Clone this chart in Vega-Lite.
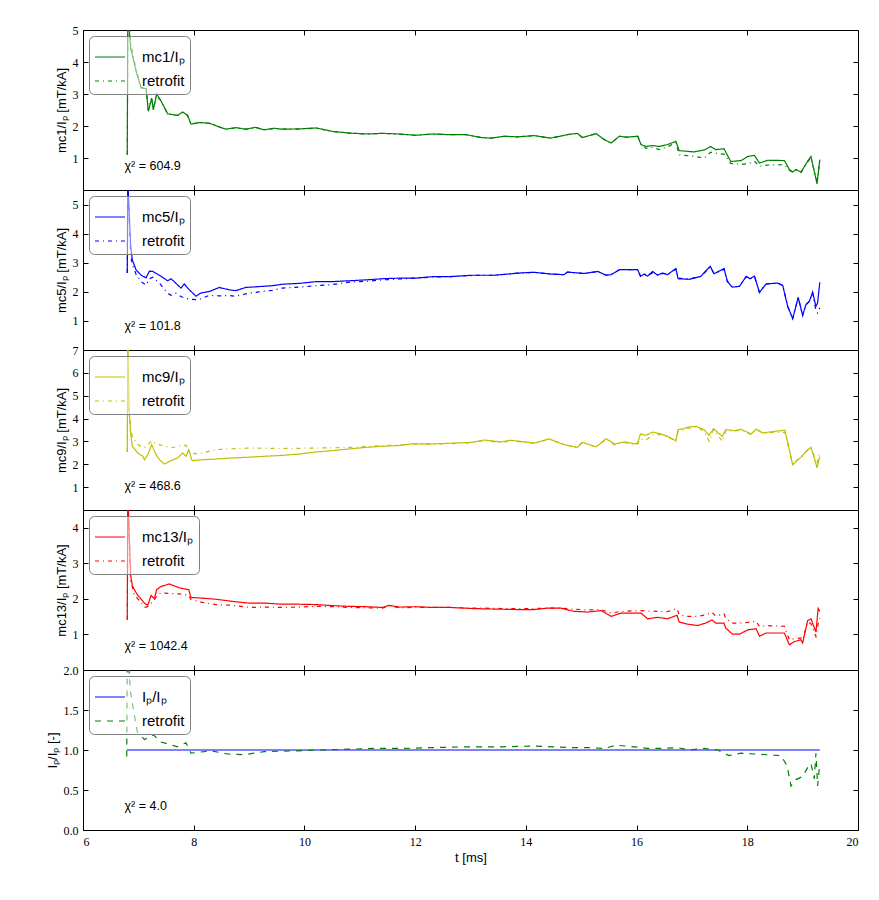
{
"$schema": "https://vega.github.io/schema/vega-lite/v6.json",
"padding": {"left": 45, "top": 23, "right": 10, "bottom": 10},
"background": "white",
"bounds": "flush",
"config": {
  "view": {"stroke": "black", "strokeWidth": 1},
  "axis": {"grid": false, "domain": false, "tickColor": "black", "tickSize": -5, "labelColor": "black", "titleColor": "black", "labelFont": "Liberation Serif", "labelFontSize": 12, "titleFont": "Liberation Sans", "titleFontSize": 13, "titleFontWeight": "normal", "labelPadding": 10},
  "legend": {"orient": "top-left", "offset": 6, "strokeColor": "#808080", "cornerRadius": 5, "fillColor": "rgba(255,255,255,0.5)", "padding": 5, "symbolType": "stroke", "symbolSize": 900, "symbolStrokeWidth": 1.2, "labelFont": "Liberation Sans", "labelFontSize": 15, "labelOffset": 16, "rowPadding": -7, "labelColor": "black"},
  "text": {"font": "Liberation Sans", "fontSize": 12.5, "color": "black"}
},
"datasets": {
  "mc1": [
    {"t":6.80,"mc1/Iₚ":1.10,"retrofit":1.10},{"t":6.81,"mc1/Iₚ":5.6,"retrofit":5.6},{"t":6.86,"mc1/Iₚ":4.44,"retrofit":4.6},{"t":6.96,"mc1/Iₚ":3.71,"retrofit":3.75},{"t":7.05,"mc1/Iₚ":3.19,"retrofit":3.2},{"t":7.14,"mc1/Iₚ":3.17,"retrofit":3.17},{"t":7.18,"mc1/Iₚ":2.46,"retrofit":2.5},{"t":7.24,"mc1/Iₚ":2.87,"retrofit":2.85},{"t":7.27,"mc1/Iₚ":2.50,"retrofit":2.55},{"t":7.33,"mc1/Iₚ":3.00,"retrofit":2.95},{"t":7.41,"mc1/Iₚ":2.78,"retrofit":2.78},{"t":7.53,"mc1/Iₚ":2.38,"retrofit":2.38},{"t":7.71,"mc1/Iₚ":2.33,"retrofit":2.33},{"t":7.80,"mc1/Iₚ":2.44,"retrofit":2.42},{"t":7.89,"mc1/Iₚ":2.33,"retrofit":2.33},{"t":7.95,"mc1/Iₚ":2.06,"retrofit":2.06},{"t":8.10,"mc1/Iₚ":2.11,"retrofit":2.10},{"t":8.28,"mc1/Iₚ":2.09,"retrofit":2.08},{"t":8.43,"mc1/Iₚ":1.99,"retrofit":1.99},{"t":8.58,"mc1/Iₚ":1.90,"retrofit":1.90},{"t":8.76,"mc1/Iₚ":1.95,"retrofit":1.94},{"t":8.94,"mc1/Iₚ":1.90,"retrofit":1.90},{"t":9.12,"mc1/Iₚ":1.96,"retrofit":1.95},{"t":9.27,"mc1/Iₚ":1.88,"retrofit":1.88},{"t":9.45,"mc1/Iₚ":1.93,"retrofit":1.92},{"t":9.60,"mc1/Iₚ":1.90,"retrofit":1.90},{"t":9.91,"mc1/Iₚ":1.91,"retrofit":1.90},{"t":10.21,"mc1/Iₚ":1.94,"retrofit":1.93},{"t":10.51,"mc1/Iₚ":1.83,"retrofit":1.83},{"t":10.81,"mc1/Iₚ":1.78,"retrofit":1.78},{"t":11.11,"mc1/Iₚ":1.75,"retrofit":1.75},{"t":11.41,"mc1/Iₚ":1.77,"retrofit":1.77},{"t":11.71,"mc1/Iₚ":1.75,"retrofit":1.75},{"t":12.01,"mc1/Iₚ":1.71,"retrofit":1.71},{"t":12.31,"mc1/Iₚ":1.75,"retrofit":1.75},{"t":12.62,"mc1/Iₚ":1.73,"retrofit":1.73},{"t":12.92,"mc1/Iₚ":1.73,"retrofit":1.73},{"t":13.19,"mc1/Iₚ":1.64,"retrofit":1.64},{"t":13.37,"mc1/Iₚ":1.62,"retrofit":1.62},{"t":13.61,"mc1/Iₚ":1.68,"retrofit":1.68},{"t":13.85,"mc1/Iₚ":1.66,"retrofit":1.66},{"t":14.15,"mc1/Iₚ":1.70,"retrofit":1.70},{"t":14.45,"mc1/Iₚ":1.62,"retrofit":1.62},{"t":14.75,"mc1/Iₚ":1.73,"retrofit":1.73},{"t":14.93,"mc1/Iₚ":1.77,"retrofit":1.77},{"t":15.02,"mc1/Iₚ":1.64,"retrofit":1.64},{"t":15.27,"mc1/Iₚ":1.76,"retrofit":1.76},{"t":15.42,"mc1/Iₚ":1.57,"retrofit":1.57},{"t":15.54,"mc1/Iₚ":1.47,"retrofit":1.47},{"t":15.69,"mc1/Iₚ":1.68,"retrofit":1.68},{"t":15.81,"mc1/Iₚ":1.65,"retrofit":1.65},{"t":16.02,"mc1/Iₚ":1.68,"retrofit":1.68},{"t":16.08,"mc1/Iₚ":1.42,"retrofit":1.42},{"t":16.17,"mc1/Iₚ":1.36,"retrofit":1.30},{"t":16.29,"mc1/Iₚ":1.39,"retrofit":1.33},{"t":16.41,"mc1/Iₚ":1.36,"retrofit":1.26},{"t":16.56,"mc1/Iₚ":1.42,"retrofit":1.35},{"t":16.71,"mc1/Iₚ":1.52,"retrofit":1.48},{"t":16.77,"mc1/Iₚ":1.23,"retrofit":1.10},{"t":17.04,"mc1/Iₚ":1.19,"retrofit":1.05},{"t":17.22,"mc1/Iₚ":1.25,"retrofit":1.00},{"t":17.34,"mc1/Iₚ":1.36,"retrofit":1.18},{"t":17.43,"mc1/Iₚ":1.26,"retrofit":1.15},{"t":17.58,"mc1/Iₚ":1.29,"retrofit":1.12},{"t":17.70,"mc1/Iₚ":0.89,"retrofit":0.83},{"t":17.89,"mc1/Iₚ":0.92,"retrofit":0.80},{"t":18.01,"mc1/Iₚ":1.05,"retrofit":0.82},{"t":18.13,"mc1/Iₚ":1.08,"retrofit":0.90},{"t":18.22,"mc1/Iₚ":0.84,"retrofit":0.74},{"t":18.37,"mc1/Iₚ":0.93,"retrofit":0.78},{"t":18.67,"mc1/Iₚ":0.92,"retrofit":0.79},{"t":18.76,"mc1/Iₚ":0.64,"retrofit":0.62},{"t":18.82,"mc1/Iₚ":0.56,"retrofit":0.56},{"t":18.88,"mc1/Iₚ":0.64,"retrofit":0.62},{"t":18.97,"mc1/Iₚ":0.56,"retrofit":0.55},{"t":19.09,"mc1/Iₚ":0.90,"retrofit":0.88},{"t":19.15,"mc1/Iₚ":1.05,"retrofit":1.00},{"t":19.21,"mc1/Iₚ":0.58,"retrofit":0.60},{"t":19.26,"mc1/Iₚ":0.19,"retrofit":0.30},{"t":19.28,"mc1/Iₚ":0.50,"retrofit":0.50},{"t":19.31,"mc1/Iₚ":0.95,"retrofit":0.90}
  ],
  "mc5": [
    {"t":6.80,"mc5/Iₚ":2.65,"retrofit":2.65},{"t":6.81,"mc5/Iₚ":5.8,"retrofit":5.8},{"t":6.86,"mc5/Iₚ":3.62,"retrofit":3.27},{"t":6.89,"mc5/Iₚ":3.10,"retrofit":2.95},{"t":6.96,"mc5/Iₚ":2.75,"retrofit":2.60},{"t":7.05,"mc5/Iₚ":2.57,"retrofit":2.35},{"t":7.14,"mc5/Iₚ":2.48,"retrofit":2.23},{"t":7.20,"mc5/Iₚ":2.71,"retrofit":2.45},{"t":7.26,"mc5/Iₚ":2.70,"retrofit":2.50},{"t":7.38,"mc5/Iₚ":2.57,"retrofit":2.30},{"t":7.53,"mc5/Iₚ":2.38,"retrofit":1.95},{"t":7.59,"mc5/Iₚ":2.45,"retrofit":1.88},{"t":7.68,"mc5/Iₚ":2.29,"retrofit":1.95},{"t":7.77,"mc5/Iₚ":2.13,"retrofit":1.84},{"t":7.83,"mc5/Iₚ":2.27,"retrofit":1.79},{"t":7.92,"mc5/Iₚ":2.07,"retrofit":1.75},{"t":8.04,"mc5/Iₚ":1.85,"retrofit":1.73},{"t":8.13,"mc5/Iₚ":1.96,"retrofit":1.76},{"t":8.28,"mc5/Iₚ":2.01,"retrofit":1.88},{"t":8.46,"mc5/Iₚ":2.15,"retrofit":1.86},{"t":8.64,"mc5/Iₚ":2.07,"retrofit":1.87},{"t":8.76,"mc5/Iₚ":2.04,"retrofit":1.85},{"t":8.94,"mc5/Iₚ":2.15,"retrofit":1.93},{"t":9.18,"mc5/Iₚ":2.18,"retrofit":2.00},{"t":9.42,"mc5/Iₚ":2.21,"retrofit":2.05},{"t":9.60,"mc5/Iₚ":2.26,"retrofit":2.13},{"t":9.91,"mc5/Iₚ":2.29,"retrofit":2.16},{"t":10.21,"mc5/Iₚ":2.35,"retrofit":2.21},{"t":10.51,"mc5/Iₚ":2.35,"retrofit":2.25},{"t":10.81,"mc5/Iₚ":2.38,"retrofit":2.33},{"t":11.11,"mc5/Iₚ":2.41,"retrofit":2.36},{"t":11.41,"mc5/Iₚ":2.45,"retrofit":2.41},{"t":11.71,"mc5/Iₚ":2.47,"retrofit":2.44},{"t":12.01,"mc5/Iₚ":2.47,"retrofit":2.47},{"t":12.31,"mc5/Iₚ":2.52,"retrofit":2.51},{"t":12.62,"mc5/Iₚ":2.52,"retrofit":2.52},{"t":13.02,"mc5/Iₚ":2.57,"retrofit":2.56},{"t":13.19,"mc5/Iₚ":2.57,"retrofit":2.57},{"t":13.43,"mc5/Iₚ":2.57,"retrofit":2.57},{"t":13.67,"mc5/Iₚ":2.61,"retrofit":2.61},{"t":13.91,"mc5/Iₚ":2.65,"retrofit":2.65},{"t":14.15,"mc5/Iₚ":2.67,"retrofit":2.67},{"t":14.45,"mc5/Iₚ":2.61,"retrofit":2.61},{"t":14.69,"mc5/Iₚ":2.59,"retrofit":2.59},{"t":14.75,"mc5/Iₚ":2.68,"retrofit":2.68},{"t":15.05,"mc5/Iₚ":2.63,"retrofit":2.63},{"t":15.30,"mc5/Iₚ":2.70,"retrofit":2.70},{"t":15.45,"mc5/Iₚ":2.57,"retrofit":2.57},{"t":15.54,"mc5/Iₚ":2.59,"retrofit":2.59},{"t":15.69,"mc5/Iₚ":2.76,"retrofit":2.76},{"t":16.02,"mc5/Iₚ":2.76,"retrofit":2.76},{"t":16.07,"mc5/Iₚ":2.53,"retrofit":2.55},{"t":16.14,"mc5/Iₚ":2.61,"retrofit":2.60},{"t":16.20,"mc5/Iₚ":2.54,"retrofit":2.56},{"t":16.29,"mc5/Iₚ":2.70,"retrofit":2.66},{"t":16.38,"mc5/Iₚ":2.57,"retrofit":2.58},{"t":16.47,"mc5/Iₚ":2.65,"retrofit":2.63},{"t":16.56,"mc5/Iₚ":2.59,"retrofit":2.60},{"t":16.71,"mc5/Iₚ":2.80,"retrofit":2.78},{"t":16.75,"mc5/Iₚ":2.45,"retrofit":2.47},{"t":16.95,"mc5/Iₚ":2.43,"retrofit":2.44},{"t":17.16,"mc5/Iₚ":2.53,"retrofit":2.53},{"t":17.33,"mc5/Iₚ":2.88,"retrofit":2.85},{"t":17.40,"mc5/Iₚ":2.62,"retrofit":2.62},{"t":17.58,"mc5/Iₚ":2.80,"retrofit":2.78},{"t":17.64,"mc5/Iₚ":2.36,"retrofit":2.36},{"t":17.73,"mc5/Iₚ":2.16,"retrofit":2.16},{"t":17.86,"mc5/Iₚ":2.19,"retrofit":2.19},{"t":17.98,"mc5/Iₚ":2.53,"retrofit":2.52},{"t":18.05,"mc5/Iₚ":2.45,"retrofit":2.45},{"t":18.13,"mc5/Iₚ":2.54,"retrofit":2.53},{"t":18.22,"mc5/Iₚ":1.98,"retrofit":1.98},{"t":18.34,"mc5/Iₚ":2.27,"retrofit":2.27},{"t":18.55,"mc5/Iₚ":2.30,"retrofit":2.30},{"t":18.64,"mc5/Iₚ":2.22,"retrofit":2.22},{"t":18.73,"mc5/Iₚ":1.50,"retrofit":1.50},{"t":18.82,"mc5/Iₚ":1.08,"retrofit":1.08},{"t":18.92,"mc5/Iₚ":1.81,"retrofit":1.80},{"t":19.00,"mc5/Iₚ":1.19,"retrofit":1.19},{"t":19.06,"mc5/Iₚ":1.56,"retrofit":1.56},{"t":19.12,"mc5/Iₚ":1.67,"retrofit":1.67},{"t":19.18,"mc5/Iₚ":1.99,"retrofit":1.97},{"t":19.24,"mc5/Iₚ":1.50,"retrofit":1.35},{"t":19.27,"mc5/Iₚ":1.62,"retrofit":1.27},{"t":19.31,"mc5/Iₚ":2.33,"retrofit":1.45}
  ],
  "mc9": [
    {"t":6.80,"mc9/Iₚ":2.54,"retrofit":2.54},{"t":6.81,"mc9/Iₚ":7.5,"retrofit":7.5},{"t":6.83,"mc9/Iₚ":4.6,"retrofit":4.17},{"t":6.86,"mc9/Iₚ":3.37,"retrofit":3.60},{"t":6.89,"mc9/Iₚ":2.79,"retrofit":3.22},{"t":6.99,"mc9/Iₚ":2.49,"retrofit":2.86},{"t":7.08,"mc9/Iₚ":2.35,"retrofit":2.74},{"t":7.11,"mc9/Iₚ":2.20,"retrofit":2.72},{"t":7.17,"mc9/Iₚ":2.42,"retrofit":2.85},{"t":7.24,"mc9/Iₚ":2.86,"retrofit":3.03},{"t":7.32,"mc9/Iₚ":2.42,"retrofit":2.90},{"t":7.38,"mc9/Iₚ":2.20,"retrofit":2.86},{"t":7.47,"mc9/Iₚ":2.01,"retrofit":2.80},{"t":7.59,"mc9/Iₚ":2.16,"retrofit":2.72},{"t":7.71,"mc9/Iₚ":2.28,"retrofit":2.78},{"t":7.80,"mc9/Iₚ":2.49,"retrofit":2.82},{"t":7.86,"mc9/Iₚ":2.35,"retrofit":2.83},{"t":7.91,"mc9/Iₚ":2.64,"retrofit":2.60},{"t":7.97,"mc9/Iₚ":2.16,"retrofit":2.50},{"t":8.07,"mc9/Iₚ":2.18,"retrofit":2.45},{"t":8.16,"mc9/Iₚ":2.20,"retrofit":2.50},{"t":8.40,"mc9/Iₚ":2.23,"retrofit":2.64},{"t":8.70,"mc9/Iₚ":2.28,"retrofit":2.68},{"t":9.00,"mc9/Iₚ":2.31,"retrofit":2.71},{"t":9.27,"mc9/Iₚ":2.35,"retrofit":2.70},{"t":9.60,"mc9/Iₚ":2.39,"retrofit":2.69},{"t":9.91,"mc9/Iₚ":2.45,"retrofit":2.70},{"t":10.21,"mc9/Iₚ":2.54,"retrofit":2.71},{"t":10.51,"mc9/Iₚ":2.60,"retrofit":2.72},{"t":10.81,"mc9/Iₚ":2.67,"retrofit":2.74},{"t":11.11,"mc9/Iₚ":2.74,"retrofit":2.77},{"t":11.41,"mc9/Iₚ":2.79,"retrofit":2.82},{"t":11.71,"mc9/Iₚ":2.82,"retrofit":2.84},{"t":11.95,"mc9/Iₚ":2.90,"retrofit":2.88},{"t":12.31,"mc9/Iₚ":2.89,"retrofit":2.88},{"t":12.62,"mc9/Iₚ":2.92,"retrofit":2.90},{"t":13.02,"mc9/Iₚ":2.96,"retrofit":2.94},{"t":13.25,"mc9/Iₚ":3.06,"retrofit":3.04},{"t":13.55,"mc9/Iₚ":2.98,"retrofit":2.95},{"t":13.73,"mc9/Iₚ":3.05,"retrofit":3.03},{"t":14.15,"mc9/Iₚ":2.93,"retrofit":2.91},{"t":14.42,"mc9/Iₚ":3.11,"retrofit":3.10},{"t":14.69,"mc9/Iₚ":2.86,"retrofit":2.86},{"t":14.93,"mc9/Iₚ":2.74,"retrofit":2.74},{"t":15.02,"mc9/Iₚ":2.96,"retrofit":2.96},{"t":15.27,"mc9/Iₚ":2.76,"retrofit":2.76},{"t":15.45,"mc9/Iₚ":3.12,"retrofit":3.10},{"t":15.60,"mc9/Iₚ":2.89,"retrofit":2.85},{"t":15.78,"mc9/Iₚ":2.98,"retrofit":2.96},{"t":15.96,"mc9/Iₚ":2.90,"retrofit":2.82},{"t":16.02,"mc9/Iₚ":2.93,"retrofit":2.90},{"t":16.07,"mc9/Iₚ":3.33,"retrofit":3.10},{"t":16.17,"mc9/Iₚ":3.27,"retrofit":3.05},{"t":16.29,"mc9/Iₚ":3.41,"retrofit":3.30},{"t":16.44,"mc9/Iₚ":3.33,"retrofit":3.30},{"t":16.56,"mc9/Iₚ":3.22,"retrofit":3.20},{"t":16.71,"mc9/Iₚ":3.03,"retrofit":3.03},{"t":16.75,"mc9/Iₚ":3.52,"retrofit":3.45},{"t":16.86,"mc9/Iₚ":3.56,"retrofit":3.50},{"t":16.92,"mc9/Iₚ":3.62,"retrofit":3.58},{"t":17.07,"mc9/Iₚ":3.66,"retrofit":3.64},{"t":17.22,"mc9/Iₚ":3.52,"retrofit":3.45},{"t":17.31,"mc9/Iₚ":3.27,"retrofit":3.00},{"t":17.39,"mc9/Iₚ":3.56,"retrofit":3.52},{"t":17.55,"mc9/Iₚ":3.22,"retrofit":3.00},{"t":17.61,"mc9/Iₚ":3.52,"retrofit":3.48},{"t":17.76,"mc9/Iₚ":3.47,"retrofit":3.45},{"t":17.89,"mc9/Iₚ":3.53,"retrofit":3.50},{"t":18.07,"mc9/Iₚ":3.33,"retrofit":3.30},{"t":18.16,"mc9/Iₚ":3.54,"retrofit":3.52},{"t":18.28,"mc9/Iₚ":3.37,"retrofit":3.37},{"t":18.49,"mc9/Iₚ":3.44,"retrofit":3.40},{"t":18.68,"mc9/Iₚ":3.49,"retrofit":3.40},{"t":18.82,"mc9/Iₚ":1.98,"retrofit":2.00},{"t":18.91,"mc9/Iₚ":2.20,"retrofit":2.20},{"t":18.97,"mc9/Iₚ":2.30,"retrofit":2.30},{"t":19.06,"mc9/Iₚ":2.57,"retrofit":2.55},{"t":19.15,"mc9/Iₚ":2.74,"retrofit":2.72},{"t":19.21,"mc9/Iₚ":2.28,"retrofit":2.35},{"t":19.26,"mc9/Iₚ":1.84,"retrofit":2.00},{"t":19.31,"mc9/Iₚ":2.35,"retrofit":2.60}
  ],
  "mc13": [
    {"t":6.80,"mc13/Iₚ":1.41,"retrofit":1.41},{"t":6.81,"mc13/Iₚ":5.0,"retrofit":5.0},{"t":6.86,"mc13/Iₚ":2.68,"retrofit":2.50},{"t":6.89,"mc13/Iₚ":2.38,"retrofit":2.35},{"t":6.92,"mc13/Iₚ":2.28,"retrofit":2.14},{"t":6.99,"mc13/Iₚ":2.10,"retrofit":2.00},{"t":7.02,"mc13/Iₚ":2.05,"retrofit":1.95},{"t":7.11,"mc13/Iₚ":1.88,"retrofit":1.76},{"t":7.17,"mc13/Iₚ":1.82,"retrofit":1.78},{"t":7.23,"mc13/Iₚ":2.10,"retrofit":1.88},{"t":7.29,"mc13/Iₚ":2.00,"retrofit":1.98},{"t":7.33,"mc13/Iₚ":2.26,"retrofit":2.08},{"t":7.41,"mc13/Iₚ":2.35,"retrofit":2.17},{"t":7.56,"mc13/Iₚ":2.42,"retrofit":2.15},{"t":7.74,"mc13/Iₚ":2.31,"retrofit":2.14},{"t":7.91,"mc13/Iₚ":2.26,"retrofit":2.10},{"t":7.95,"mc13/Iₚ":2.04,"retrofit":1.98},{"t":8.16,"mc13/Iₚ":2.02,"retrofit":1.90},{"t":8.40,"mc13/Iₚ":1.99,"retrofit":1.84},{"t":8.70,"mc13/Iₚ":1.93,"retrofit":1.82},{"t":9.00,"mc13/Iₚ":1.88,"retrofit":1.76},{"t":9.30,"mc13/Iₚ":1.88,"retrofit":1.77},{"t":9.60,"mc13/Iₚ":1.85,"retrofit":1.76},{"t":9.91,"mc13/Iₚ":1.85,"retrofit":1.77},{"t":10.21,"mc13/Iₚ":1.84,"retrofit":1.79},{"t":10.51,"mc13/Iₚ":1.81,"retrofit":1.78},{"t":10.81,"mc13/Iₚ":1.79,"retrofit":1.76},{"t":11.11,"mc13/Iₚ":1.78,"retrofit":1.75},{"t":11.41,"mc13/Iₚ":1.76,"retrofit":1.74},{"t":11.53,"mc13/Iₚ":1.82,"retrofit":1.80},{"t":11.71,"mc13/Iₚ":1.77,"retrofit":1.75},{"t":12.01,"mc13/Iₚ":1.78,"retrofit":1.76},{"t":12.31,"mc13/Iₚ":1.76,"retrofit":1.76},{"t":12.62,"mc13/Iₚ":1.76,"retrofit":1.76},{"t":13.02,"mc13/Iₚ":1.73,"retrofit":1.74},{"t":13.25,"mc13/Iₚ":1.72,"retrofit":1.74},{"t":13.55,"mc13/Iₚ":1.71,"retrofit":1.73},{"t":13.85,"mc13/Iₚ":1.70,"retrofit":1.73},{"t":14.15,"mc13/Iₚ":1.70,"retrofit":1.73},{"t":14.39,"mc13/Iₚ":1.74,"retrofit":1.74},{"t":14.63,"mc13/Iₚ":1.74,"retrofit":1.74},{"t":14.87,"mc13/Iₚ":1.65,"retrofit":1.71},{"t":15.12,"mc13/Iₚ":1.63,"retrofit":1.69},{"t":15.36,"mc13/Iₚ":1.67,"retrofit":1.70},{"t":15.54,"mc13/Iₚ":1.51,"retrofit":1.60},{"t":15.72,"mc13/Iₚ":1.60,"retrofit":1.65},{"t":16.08,"mc13/Iₚ":1.60,"retrofit":1.67},{"t":16.20,"mc13/Iₚ":1.44,"retrofit":1.66},{"t":16.38,"mc13/Iₚ":1.48,"retrofit":1.65},{"t":16.56,"mc13/Iₚ":1.44,"retrofit":1.64},{"t":16.73,"mc13/Iₚ":1.54,"retrofit":1.73},{"t":16.77,"mc13/Iₚ":1.35,"retrofit":1.55},{"t":16.92,"mc13/Iₚ":1.29,"retrofit":1.51},{"t":17.10,"mc13/Iₚ":1.25,"retrofit":1.51},{"t":17.25,"mc13/Iₚ":1.32,"retrofit":1.55},{"t":17.36,"mc13/Iₚ":1.41,"retrofit":1.62},{"t":17.43,"mc13/Iₚ":1.32,"retrofit":1.52},{"t":17.58,"mc13/Iₚ":1.32,"retrofit":1.58},{"t":17.61,"mc13/Iₚ":1.18,"retrofit":1.45},{"t":17.73,"mc13/Iₚ":1.01,"retrofit":1.32},{"t":17.86,"mc13/Iₚ":1.01,"retrofit":1.32},{"t":18.01,"mc13/Iₚ":1.13,"retrofit":1.34},{"t":18.16,"mc13/Iₚ":1.16,"retrofit":1.37},{"t":18.22,"mc13/Iₚ":0.95,"retrofit":1.22},{"t":18.34,"mc13/Iₚ":1.04,"retrofit":1.25},{"t":18.67,"mc13/Iₚ":1.04,"retrofit":1.23},{"t":18.76,"mc13/Iₚ":0.71,"retrofit":0.85},{"t":18.85,"mc13/Iₚ":0.80,"retrofit":0.88},{"t":18.97,"mc13/Iₚ":0.85,"retrofit":0.90},{"t":19.00,"mc13/Iₚ":0.76,"retrofit":0.85},{"t":19.09,"mc13/Iₚ":1.39,"retrofit":1.35},{"t":19.15,"mc13/Iₚ":1.44,"retrofit":1.30},{"t":19.24,"mc13/Iₚ":1.07,"retrofit":0.94},{"t":19.28,"mc13/Iₚ":1.73,"retrofit":1.30},{"t":19.31,"mc13/Iₚ":1.65,"retrofit":1.46}
  ],
  "ip": [
    {"t":6.79,"Iₚ/Iₚ":1,"retrofit":0.92},{"t":6.80,"Iₚ/Iₚ":1,"retrofit":2.3},{"t":6.86,"Iₚ/Iₚ":1,"retrofit":1.71},{"t":6.98,"Iₚ/Iₚ":1,"retrofit":1.23},{"t":7.11,"Iₚ/Iₚ":1,"retrofit":1.13},{"t":7.27,"Iₚ/Iₚ":1,"retrofit":1.19},{"t":7.41,"Iₚ/Iₚ":1,"retrofit":1.10},{"t":7.71,"Iₚ/Iₚ":1,"retrofit":1.04},{"t":7.86,"Iₚ/Iₚ":1,"retrofit":1.09},{"t":7.95,"Iₚ/Iₚ":1,"retrofit":0.96},{"t":8.31,"Iₚ/Iₚ":1,"retrofit":0.99},{"t":8.61,"Iₚ/Iₚ":1,"retrofit":0.95},{"t":8.91,"Iₚ/Iₚ":1,"retrofit":0.94},{"t":9.27,"Iₚ/Iₚ":1,"retrofit":0.98},{"t":9.88,"Iₚ/Iₚ":1,"retrofit":0.99},{"t":10.3,"Iₚ/Iₚ":1,"retrofit":1.00},{"t":10.8,"Iₚ/Iₚ":1,"retrofit":1.01},{"t":11.3,"Iₚ/Iₚ":1,"retrofit":1.02},{"t":11.8,"Iₚ/Iₚ":1,"retrofit":1.02},{"t":12.3,"Iₚ/Iₚ":1,"retrofit":1.03},{"t":12.95,"Iₚ/Iₚ":1,"retrofit":1.04},{"t":13.55,"Iₚ/Iₚ":1,"retrofit":1.04},{"t":14.15,"Iₚ/Iₚ":1,"retrofit":1.05},{"t":14.51,"Iₚ/Iₚ":1,"retrofit":1.04},{"t":14.81,"Iₚ/Iₚ":1,"retrofit":1.03},{"t":15.11,"Iₚ/Iₚ":1,"retrofit":1.03},{"t":15.42,"Iₚ/Iₚ":1,"retrofit":1.02},{"t":15.63,"Iₚ/Iₚ":1,"retrofit":1.06},{"t":15.96,"Iₚ/Iₚ":1,"retrofit":1.04},{"t":16.20,"Iₚ/Iₚ":1,"retrofit":1.02},{"t":16.50,"Iₚ/Iₚ":1,"retrofit":1.02},{"t":16.74,"Iₚ/Iₚ":1,"retrofit":1.03},{"t":16.95,"Iₚ/Iₚ":1,"retrofit":1.00},{"t":17.22,"Iₚ/Iₚ":1,"retrofit":1.02},{"t":17.46,"Iₚ/Iₚ":1,"retrofit":1.00},{"t":17.67,"Iₚ/Iₚ":1,"retrofit":0.93},{"t":17.89,"Iₚ/Iₚ":1,"retrofit":0.96},{"t":18.13,"Iₚ/Iₚ":1,"retrofit":0.95},{"t":18.37,"Iₚ/Iₚ":1,"retrofit":0.94},{"t":18.61,"Iₚ/Iₚ":1,"retrofit":0.93},{"t":18.72,"Iₚ/Iₚ":1,"retrofit":0.80},{"t":18.79,"Iₚ/Iₚ":1,"retrofit":0.55},{"t":18.88,"Iₚ/Iₚ":1,"retrofit":0.63},{"t":19.00,"Iₚ/Iₚ":1,"retrofit":0.67},{"t":19.09,"Iₚ/Iₚ":1,"retrofit":0.78},{"t":19.15,"Iₚ/Iₚ":1,"retrofit":0.83},{"t":19.21,"Iₚ/Iₚ":1,"retrofit":0.64},{"t":19.24,"Iₚ/Iₚ":1,"retrofit":0.96},{"t":19.27,"Iₚ/Iₚ":1,"retrofit":0.55},{"t":19.31,"Iₚ/Iₚ":1,"retrofit":0.83}
  ]
},
"spacing": 0,
"resolve": {"scale": {"color": "independent", "strokeDash": "independent", "y": "independent"}, "legend": {"color": "independent", "strokeDash": "independent"}},
"vconcat": [
  {
    "width": 775, "height": 160,
    "layer": [
      {"data": {"name": "mc1"}, "transform": [{"fold": ["mc1/Iₚ", "retrofit"], "as": ["series", "value"]}],
       "mark": {"type": "line", "clip": true, "strokeWidth": 1.2},
       "encoding": {
         "x": {"field": "t", "type": "quantitative", "scale": {"domain": [6, 20], "nice": false}, "axis": {"orient": "bottom", "values": [6,8,10,12,14,16,18,20], "labels": false, "title": null}},
         "y": {"field": "value", "type": "quantitative", "scale": {"domain": [0, 5], "nice": false}, "axis": {"orient": "left", "values": [1,2,3,4,5], "title": "mc1/Iₚ [mT/kA]"}},
         "color": {"field": "series", "type": "nominal", "sort": null, "scale": {"domain": ["mc1/Iₚ", "retrofit"], "range": ["#008000", "#008000"]}, "legend": {"title": null, "symbolStrokeColor": "#008000"}},
         "strokeDash": {"field": "series", "type": "nominal", "sort": null, "scale": {"domain": ["mc1/Iₚ", "retrofit"], "range": [[1, 0], [4, 4, 1, 4]]}, "legend": {"title": null, "symbolStrokeColor": "#008000"}}
       }},
      {"data": {"values": [{}]}, "mark": {"type": "text", "align": "left", "baseline": "middle"},
       "encoding": {
         "x": {"datum": 6.75, "type": "quantitative", "scale": {"domain": [6, 20], "nice": false}, "axis": {"orient": "top", "values": [6,8,10,12,14,16,18,20], "labels": false, "title": null}},
         "y": {"datum": 0.75, "type": "quantitative", "scale": {"domain": [0, 5], "nice": false}, "axis": {"orient": "right", "values": [1,2,3,4,5], "labels": false, "title": null}},
         "text": {"value": "χ² = 604.9"}
       }}
    ],
    "resolve": {"axis": {"x": "independent", "y": "independent"}}
  },
  {
    "width": 775, "height": 160,
    "layer": [
      {"data": {"name": "mc5"}, "transform": [{"fold": ["mc5/Iₚ", "retrofit"], "as": ["series", "value"]}],
       "mark": {"type": "line", "clip": true, "strokeWidth": 1.2},
       "encoding": {
         "x": {"field": "t", "type": "quantitative", "scale": {"domain": [6, 20], "nice": false}, "axis": {"orient": "bottom", "values": [6,8,10,12,14,16,18,20], "labels": false, "title": null}},
         "y": {"field": "value", "type": "quantitative", "scale": {"domain": [0, 5.5], "nice": false}, "axis": {"orient": "left", "values": [1,2,3,4,5], "title": "mc5/Iₚ [mT/kA]"}},
         "color": {"field": "series", "type": "nominal", "sort": null, "scale": {"domain": ["mc5/Iₚ", "retrofit"], "range": ["#0000ff", "#0000ff"]}, "legend": {"title": null, "symbolStrokeColor": "#0000ff"}},
         "strokeDash": {"field": "series", "type": "nominal", "sort": null, "scale": {"domain": ["mc5/Iₚ", "retrofit"], "range": [[1, 0], [4, 4, 1, 4]]}, "legend": {"title": null, "symbolStrokeColor": "#0000ff"}}
       }},
      {"data": {"values": [{}]}, "mark": {"type": "text", "align": "left", "baseline": "middle"},
       "encoding": {
         "x": {"datum": 6.75, "type": "quantitative", "scale": {"domain": [6, 20], "nice": false}, "axis": {"orient": "top", "values": [6,8,10,12,14,16,18,20], "labels": false, "title": null}},
         "y": {"datum": 0.825, "type": "quantitative", "scale": {"domain": [0, 5.5], "nice": false}, "axis": {"orient": "right", "values": [1,2,3,4,5], "labels": false, "title": null}},
         "text": {"value": "χ² = 101.8"}
       }}
    ],
    "resolve": {"axis": {"x": "independent", "y": "independent"}}
  },
  {
    "width": 775, "height": 160,
    "layer": [
      {"data": {"name": "mc9"}, "transform": [{"fold": ["mc9/Iₚ", "retrofit"], "as": ["series", "value"]}],
       "mark": {"type": "line", "clip": true, "strokeWidth": 1.2},
       "encoding": {
         "x": {"field": "t", "type": "quantitative", "scale": {"domain": [6, 20], "nice": false}, "axis": {"orient": "bottom", "values": [6,8,10,12,14,16,18,20], "labels": false, "title": null}},
         "y": {"field": "value", "type": "quantitative", "scale": {"domain": [0, 7], "nice": false}, "axis": {"orient": "left", "values": [1,2,3,4,5,6,7], "title": "mc9/Iₚ [mT/kA]"}},
         "color": {"field": "series", "type": "nominal", "sort": null, "scale": {"domain": ["mc9/Iₚ", "retrofit"], "range": ["#bfbf00", "#bfbf00"]}, "legend": {"title": null, "symbolStrokeColor": "#bfbf00"}},
         "strokeDash": {"field": "series", "type": "nominal", "sort": null, "scale": {"domain": ["mc9/Iₚ", "retrofit"], "range": [[1, 0], [4, 4, 1, 4]]}, "legend": {"title": null, "symbolStrokeColor": "#bfbf00"}}
       }},
      {"data": {"values": [{}]}, "mark": {"type": "text", "align": "left", "baseline": "middle"},
       "encoding": {
         "x": {"datum": 6.75, "type": "quantitative", "scale": {"domain": [6, 20], "nice": false}, "axis": {"orient": "top", "values": [6,8,10,12,14,16,18,20], "labels": false, "title": null}},
         "y": {"datum": 1.05, "type": "quantitative", "scale": {"domain": [0, 7], "nice": false}, "axis": {"orient": "right", "values": [1,2,3,4,5,6,7], "labels": false, "title": null}},
         "text": {"value": "χ² = 468.6"}
       }}
    ],
    "resolve": {"axis": {"x": "independent", "y": "independent"}}
  },
  {
    "width": 775, "height": 160,
    "layer": [
      {"data": {"name": "mc13"}, "transform": [{"fold": ["mc13/Iₚ", "retrofit"], "as": ["series", "value"]}],
       "mark": {"type": "line", "clip": true, "strokeWidth": 1.2},
       "encoding": {
         "x": {"field": "t", "type": "quantitative", "scale": {"domain": [6, 20], "nice": false}, "axis": {"orient": "bottom", "values": [6,8,10,12,14,16,18,20], "labels": false, "title": null}},
         "y": {"field": "value", "type": "quantitative", "scale": {"domain": [0, 4.5], "nice": false}, "axis": {"orient": "left", "values": [1,2,3,4], "title": "mc13/Iₚ [mT/kA]"}},
         "color": {"field": "series", "type": "nominal", "sort": null, "scale": {"domain": ["mc13/Iₚ", "retrofit"], "range": ["#ff0000", "#ff0000"]}, "legend": {"title": null, "symbolStrokeColor": "#ff0000"}},
         "strokeDash": {"field": "series", "type": "nominal", "sort": null, "scale": {"domain": ["mc13/Iₚ", "retrofit"], "range": [[1, 0], [4, 4, 1, 4]]}, "legend": {"title": null, "symbolStrokeColor": "#ff0000"}}
       }},
      {"data": {"values": [{}]}, "mark": {"type": "text", "align": "left", "baseline": "middle"},
       "encoding": {
         "x": {"datum": 6.75, "type": "quantitative", "scale": {"domain": [6, 20], "nice": false}, "axis": {"orient": "top", "values": [6,8,10,12,14,16,18,20], "labels": false, "title": null}},
         "y": {"datum": 0.675, "type": "quantitative", "scale": {"domain": [0, 4.5], "nice": false}, "axis": {"orient": "right", "values": [1,2,3,4], "labels": false, "title": null}},
         "text": {"value": "χ² = 1042.4"}
       }}
    ],
    "resolve": {"axis": {"x": "independent", "y": "independent"}}
  },
  {
    "width": 775, "height": 160,
    "layer": [
      {"data": {"name": "ip"}, "transform": [{"fold": ["Iₚ/Iₚ", "retrofit"], "as": ["series", "value"]}],
       "mark": {"type": "line", "clip": true, "strokeWidth": 1.2},
       "encoding": {
         "x": {"field": "t", "type": "quantitative", "scale": {"domain": [6, 20], "nice": false}, "axis": {"orient": "bottom", "values": [6,8,10,12,14,16,18,20], "labelPadding": 11, "title": "t [ms]", "titlePadding": 4}},
         "y": {"field": "value", "type": "quantitative", "scale": {"domain": [0, 2], "nice": false}, "axis": {"orient": "left", "values": [0,0.5,1,1.5,2], "format": ".1f", "title": "Iₚ/Iₚ [-]"}},
         "color": {"field": "series", "type": "nominal", "sort": null, "scale": {"domain": ["Iₚ/Iₚ", "retrofit"], "range": ["#0000ff", "#008000"]}, "legend": {"title": null}},
         "strokeDash": {"field": "series", "type": "nominal", "sort": null, "scale": {"domain": ["Iₚ/Iₚ", "retrofit"], "range": [[1, 0], [6, 6]]}, "legend": {"title": null}}
       }},
      {"data": {"values": [{}]}, "mark": {"type": "text", "align": "left", "baseline": "middle"},
       "encoding": {
         "x": {"datum": 6.75, "type": "quantitative", "scale": {"domain": [6, 20], "nice": false}, "axis": {"orient": "top", "values": [6,8,10,12,14,16,18,20], "labels": false, "title": null}},
         "y": {"datum": 0.3, "type": "quantitative", "scale": {"domain": [0, 2], "nice": false}, "axis": {"orient": "right", "values": [0,0.5,1,1.5,2], "labels": false, "title": null}},
         "text": {"value": "χ² = 4.0"}
       }}
    ],
    "resolve": {"axis": {"x": "independent", "y": "independent"}}
  }
]
}
